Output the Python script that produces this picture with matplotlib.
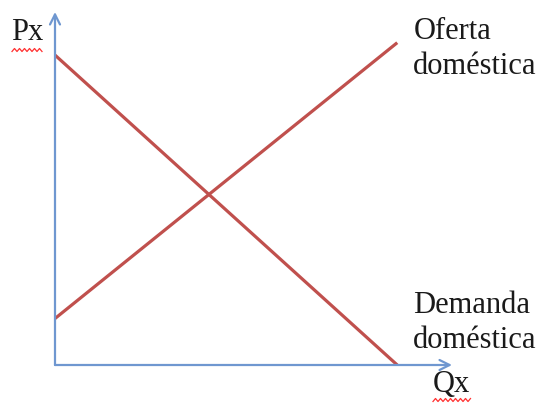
import numpy as np
import matplotlib.pyplot as plt

# quantity range and the two curves (price)
q = [0, 10]
demanda = [10, 0]
oferta = [1.5, 10.4]

axis_color = '#6F97D0'
line_color = '#C0504D'
plt.rcParams['font.family'] = ['Liberation Serif', 'DejaVu Serif']

fig = plt.figure(figsize=(5.41, 4.05), dpi=100)
ax = fig.add_axes([55 / 541, 40 / 405, 397 / 541, 353 / 405])
ax.set_xlim(0, 11.6)
ax.set_ylim(0, 11.39)
ax.axis('off')

# axes with arrow heads
arrow = dict(arrowstyle='->', color=axis_color, lw=1.6, mutation_scale=18,
             shrinkA=0, shrinkB=0)
ax.annotate('', xy=(11.6, 0), xytext=(0, 0), arrowprops=arrow, annotation_clip=False)
ax.annotate('', xy=(0, 11.39), xytext=(0, 0), arrowprops=arrow, annotation_clip=False)

ax.plot(q, demanda, color=line_color, lw=2.3, solid_capstyle='butt')
ax.plot(q, oferta, color=line_color, lw=2.3, solid_capstyle='butt')

txt = dict(fontsize=22, color='#1a1a1a', clip_on=False)
ax.text(-0.8, 10.72, 'Px', ha='center', va='center', **txt)
ax.text(11.58, -0.62, 'Qx', ha='center', va='center', **txt)
ax.text(10.47, 10.2, 'Oferta\ndoméstica', ha='left', va='center', linespacing=1.3, **txt)
ax.text(10.47, 1.36, 'Demanda\ndoméstica', ha='left', va='center', linespacing=1.3, **txt)

# spell-check squiggles under Px and Qx (figure pixels)
def squiggle(x0, x1, y):
    xs = np.arange(x0, x1 + 1, 2.5)
    ys = y + np.where(np.arange(len(xs)) % 2 == 0, 1.5, -1.5)
    fig.add_artist(plt.Line2D(xs / 541, 1 - ys / 405, color='#FF3030', lw=0.9))

squiggle(12, 43, 50)
squiggle(433, 470, 400)

fig.savefig('out.png', dpi=100)
